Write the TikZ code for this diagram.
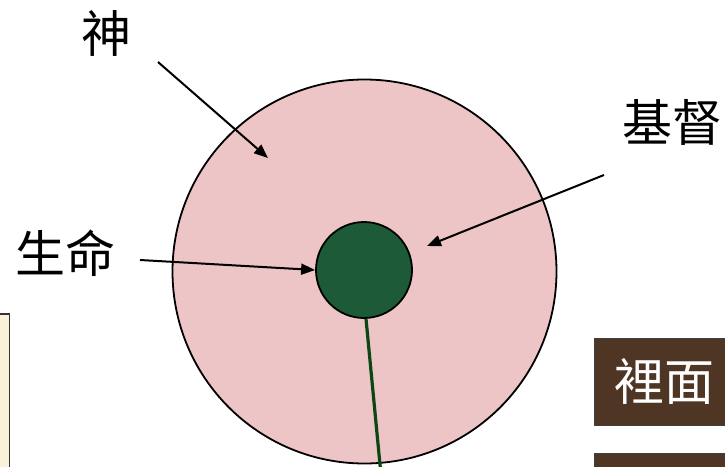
\documentclass[tikz,border=0pt]{standalone}
\usepackage{fontspec}
\setmainfont{Noto Sans CJK TC}
\usetikzlibrary{arrows.meta}
\definecolor{pinkfill}{HTML}{EDC5C6}
\definecolor{greenfill}{HTML}{1D5A37}
\definecolor{stem}{HTML}{0C4612}
\definecolor{brownfill}{HTML}{4E3524}
\definecolor{creamfill}{HTML}{FBF0DA}
\tikzset{
  lbl/.style={font=\fontsize{50}{54}\selectfont, inner sep=0pt},
  pointer/.style={line width=2pt, -{Triangle[length=14pt,width=11pt]}},
  brownbox/.style={draw=black!75, line width=1.2pt, fill=brownfill},
}
\begin{document}
\begin{tikzpicture}[x=1pt,y=-1pt]
\useasboundingbox (0,0) rectangle (725,466);
% left cream box
\node[draw=black!80, line width=1.5pt, fill=creamfill, minimum width=40pt, minimum height=170pt, inner sep=0pt, anchor=north east] (leftbox) at (10,313) {};
% big circle
\node[circle, draw=black, line width=1.8pt, fill=pinkfill, minimum size=384pt, inner sep=0pt] (god) at (364.5,271.5) {};
% stem
\coordinate (stemend) at (381,475);
% small circle
\node[circle, draw=black, line width=1.8pt, fill=greenfill, minimum size=96pt, inner sep=0pt] (life) at (364,270) {};
\draw[stem, line width=3.2pt] (life.south) ++(2,0) coordinate (stemtop) -- (stemend);
% brown boxes
\node[brownbox, minimum width=150pt, minimum height=87pt, anchor=north west, inner sep=0pt] (inside) at (594,338) {};
\node[lbl, text=white] (insidetxt) at (664,381) {裡面};
\node[brownbox, minimum width=150pt, minimum height=60pt, anchor=north west, inner sep=0pt] (box2) at (594,453) {};
% labels
\node[lbl] (shen) at (106,33) {神};
\node[lbl] (jidu) at (672,122) {基督};
\node[lbl] (shengming) at (66,253) {生命};
% pointers
\coordinate (a1s) at (158,62);
\coordinate (a1e) at (268,158);
\draw[pointer] (a1s) -- (a1e);
\coordinate (a2s) at (604,175);
\coordinate (a2e) at (427,246);
\draw[pointer] (a2s) -- (a2e);
\coordinate (a3s) at (140,260);
\draw[pointer] (a3s) -- (life.west);
\end{tikzpicture}
\end{document}
